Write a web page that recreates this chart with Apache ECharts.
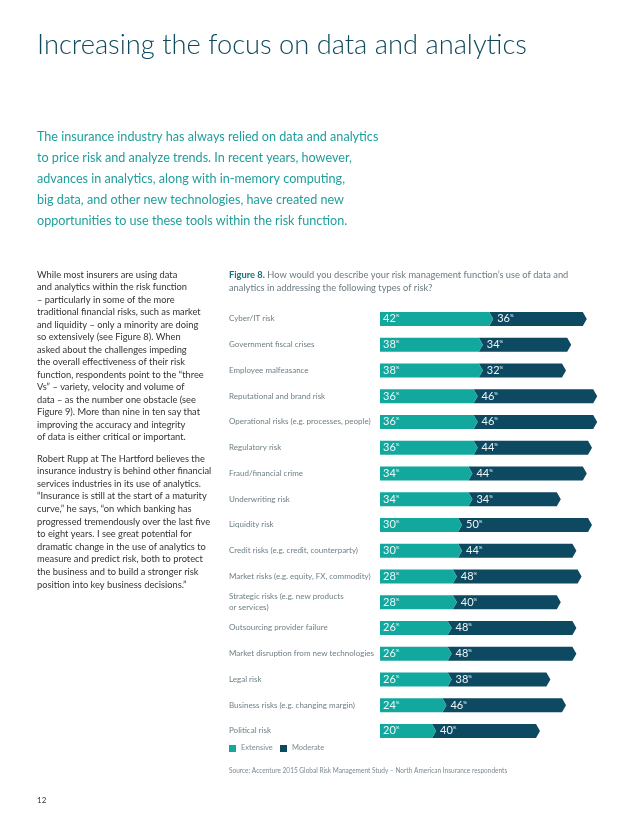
<!DOCTYPE html>
<html><head><meta charset="utf-8">
<script src="https://cdn.jsdelivr.net/npm/echarts@6/dist/echarts.min.js"></script>
<style>html,body{margin:0;padding:0;background:#fff}#c{width:638px;height:826px}</style>
</head><body><div id="c"></div>
<script>
var categories = ["Cyber/IT risk","Government fiscal crises","Employee malfeasance","Reputational and brand risk","Operational risks (e.g. processes, people)","Regulatory risk","Fraud/financial crime","Underwriting risk","Liquidity risk","Credit risks (e.g. credit, counterparty)","Market risks (e.g. equity, FX, commodity)","Strategic risks (e.g. new products\nor services)","Outsourcing provider failure","Market disruption from new technologies","Legal risk","Business risks (e.g. changing margin)","Political risk"];
var extensive = [42,38,38,36,36,36,34,34,30,30,28,28,26,26,26,24,20];
var moderate  = [36,34,32,46,46,44,44,34,50,44,48,40,48,48,38,46,40];
var legendNames = ["Extensive","Moderate"];

var TEAL = '#13a89e', DARK = '#0d4a61';
var FONT = 'Lato, "Noto Sans", sans-serif';

var leftText1 = ["While most insurers are using data","and analytics within the risk function","– particularly in some of the more","traditional financial risks, such as market","and liquidity – only a minority are doing","so extensively (see Figure 8). When","asked about the challenges impeding","the overall effectiveness of their risk","function, respondents point to the “three","Vs” – variety, velocity and volume of","data – as the number one obstacle (see","Figure 9). More than nine in ten say that","improving the accuracy and integrity","of data is either critical or important."];
var leftText2 = ["Robert Rupp at The Hartford believes the","insurance industry is behind other financial","services industries in its use of analytics.","“Insurance is still at the start of a maturity","curve,” he says, “on which banking has","progressed tremendously over the last five","to eight years. I see great potential for","dramatic change in the use of analytics to","measure and predict risk, both to protect","the business and to build a stronger risk","position into key business decisions.”"];
var introText = ["The insurance industry has always relied on data and analytics","to price risk and analyze trends. In recent years, however,","advances in analytics, along with in-memory computing,","big data, and other new technologies, have created new","opportunities to use these tools within the risk function."];

var graphics = [];
graphics.push({type:'text', left:37, top:32, style:{text:'Increasing the focus on data and analytics', font:'300 27.3px '+FONT, fill:'#0e4a5d'}});
introText.forEach(function(t,i){
  graphics.push({type:'text', x:37, y:129+i*21.2, scaleX:0.9, style:{text:t, font:'14px '+FONT, fill:'#1f9e9b'}});
});
leftText1.forEach(function(t,i){
  graphics.push({type:'text', left:37, top:270+i*12.5, style:{text:t, font:'9.3px '+FONT, fill:'#333'}});
});
leftText2.forEach(function(t,i){
  graphics.push({type:'text', left:37, top:454+i*12.6, style:{text:t, font:'9.3px '+FONT, fill:'#333'}});
});
graphics.push({type:'text', left:229, top:270, style:{text:'{b|Figure 8.} How would you describe your risk management function’s use of data and', rich:{b:{font:'bold 9.3px '+FONT, fill:'#17707a'}}, font:'9.3px '+FONT, fill:'#6a7a80'}});
graphics.push({type:'text', left:229, top:283, style:{text:'analytics in addressing the following types of risk?', font:'9.3px '+FONT, fill:'#6a7a80'}});
// legend
graphics.push({type:'rect', shape:{x:229, y:745, width:7, height:7}, style:{fill:TEAL}});
graphics.push({type:'text', left:241, top:744, style:{text:legendNames[0], font:'7.5px '+FONT, fill:'#7a8a90'}});
graphics.push({type:'rect', shape:{x:280, y:745, width:7, height:7}, style:{fill:DARK}});
graphics.push({type:'text', left:292, top:744, style:{text:legendNames[1], font:'7.5px '+FONT, fill:'#7a8a90'}});
graphics.push({type:'text', x:229, y:767, scaleX:0.93, style:{text:'Source: Accenture 2015 Global Risk Management Study – North American Insurance respondents', font:'7px '+FONT, fill:'#7a8a90'}});
graphics.push({type:'text', left:37, top:796, style:{text:'12', font:'8px '+FONT, fill:'#333'}});

var data = categories.map(function(c,i){ return [extensive[i], i, moderate[i]]; });

var chart = echarts.init(document.getElementById('c'), null, {renderer:'canvas'});
chart.setOption({
  animation:false,
  graphic: graphics,
  grid:{left:380, top:306, width:234, height:437.75},
  xAxis:{type:'value', min:0, max:90, show:false},
  yAxis:{type:'category', data:categories, inverse:true,
    axisLine:{show:false}, axisTick:{show:false},
    axisLabel:{align:'left', margin:151, fontSize:8, color:'#6d7f85', fontFamily:FONT, lineHeight:11, interval:0}},
  series:[{
    type:'custom',
    encode:{x:0, y:1},
    data:data,
    renderItem:function(params, api){
      var e = api.value(0), ci = api.value(1), m = api.value(2);
      var p0 = api.coord([0, ci]), p1 = api.coord([e, ci]), p2 = api.coord([e+m, ci]);
      var h = 14, t = 4, y = p0[1], top = y-h/2, bot = y+h/2;
      var rich = {n:{fontSize:11, fill:'#eef7f7', fontFamily:FONT}, p:{fontSize:4.5, fill:'#eef7f7', fontFamily:FONT, verticalAlign:'top', padding:[0,0,6,0]}};
      return {type:'group', children:[
        {type:'polygon', shape:{points:[[p1[0],top],[p2[0],top],[p2[0]+t,y],[p2[0],bot],[p1[0],bot],[p1[0]+t,y]]}, style:{fill:DARK}},
        {type:'polygon', shape:{points:[[p0[0],top],[p1[0],top],[p1[0]+t,y],[p1[0],bot],[p0[0],bot]]}, style:{fill:TEAL}},
        {type:'text', x:p0[0]+3, y:y, style:{text:'{n|'+e+'}{p|%}', rich:rich, verticalAlign:'middle', align:'left'}},
        {type:'text', x:p1[0]+t+4, y:y, style:{text:'{n|'+m+'}{p|%}', rich:rich, verticalAlign:'middle', align:'left'}}
      ]};
    }
  }]
});
</script></body></html>
